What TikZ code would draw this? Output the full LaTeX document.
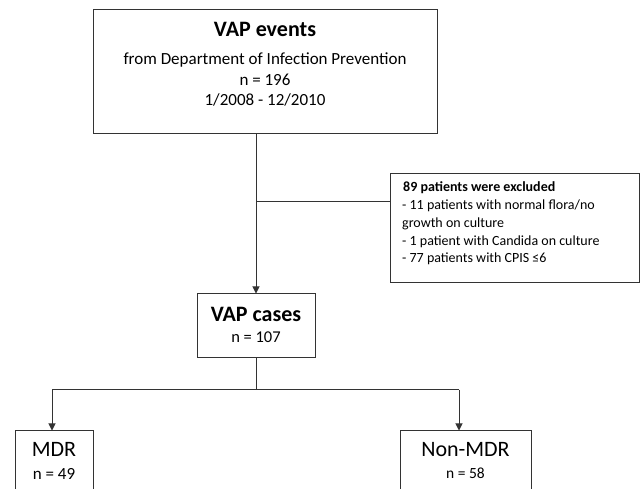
\documentclass[tikz,border=0pt]{standalone}
\usepackage{fontspec}
\setmainfont{Carlito}
\usetikzlibrary{arrows.meta}
\tikzset{
  box/.style={draw=black!80, line width=1pt, fill=white, inner sep=0pt},
  conn/.style={draw=black!80, line width=1pt},
  arr/.style={conn, -{Triangle[length=7pt,width=7pt]}},
  txt/.style={inner sep=0pt, anchor=base, text=black},
  big/.style={font=\fontsize{22}{26}\selectfont},
  bigb/.style={font=\fontsize{22}{26}\selectfont\bfseries},
  mid/.style={font=\fontsize{17}{20}\selectfont},
  small/.style={font=\fontsize{14}{17}\selectfont},
  smallb/.style={font=\fontsize{14}{17}\selectfont\bfseries},
}
\begin{document}
\begin{tikzpicture}[x=1pt,y=-1pt]
\useasboundingbox (0,0) rectangle (641,489);
\clip (0,0) rectangle (641,489);
\fill[white] (0,0) rectangle (641,489);

% boxes
\node[box, minimum width=344pt, minimum height=124pt] (top) at (265,72) {};
\node[box, minimum width=118pt, minimum height=64pt] (cases) at (256,326) {};
\node[box, minimum width=249pt, minimum height=109pt] (excl) at (515,228.5) {};
\node[box, minimum width=78pt, minimum height=89pt] (mdr) at (54,475.5) {};
\node[box, minimum width=131pt, minimum height=89pt] (nmdr) at (465.5,475.5) {};

% texts
\node[txt, bigb] (t1) at (265,37) {VAP events};
\node[txt, mid] (t2) at (265,65) {from Department of Infection Prevention};
\node[txt, mid] (t3) at (265,86) {n = 196};
\node[txt, mid] (t4) at (265,106) {1/2008 - 12/2010};

\node[txt, bigb] (c1) at (256,322) {VAP cases};
\node[txt, font=\fontsize{16.5}{20}\selectfont] (c2) at (256,343) {n = 107};

\node[txt, smallb, anchor=base west] (e1) at (403,192) {89 patients were excluded};
\node[txt, small, anchor=base west] (e2) at (402,210) {- 11 patients with normal flora/no};
\node[txt, small, anchor=base west] (e3) at (402,227.5) {growth on culture};
\node[txt, small, anchor=base west] (e4) at (402,245.5) {- 1 patient with Candida on culture};
\node[txt, small, anchor=base west] (e5) at (402,263) {- 77 patients with CPIS ≤6};

\node[txt, big] (m1) at (54,457) {MDR};
\node[txt, mid] (m2) at (54,480) {n = 49};
\node[txt, big] (n1) at (465.5,457) {Non-MDR};
\node[txt, font=\fontsize{15.5}{19}\selectfont] (n2) at (465.5,479) {n = 58};

% connectors
\coordinate (br) at (256,202);
\coordinate (jL) at (52,390);
\coordinate (jR) at (459,390);
\draw[arr] (cases.north |- top.south) -- (cases.north);
\draw[conn] (br) -- (br -| excl.west);
\draw[conn] (cases.south) -- (cases.south |- jL);
\draw[conn] (jL) -- (jR);
\draw[arr] (jL) -- (jL |- mdr.north);
\draw[arr] (jR) -- (jR |- nmdr.north);
\end{tikzpicture}
\end{document}
